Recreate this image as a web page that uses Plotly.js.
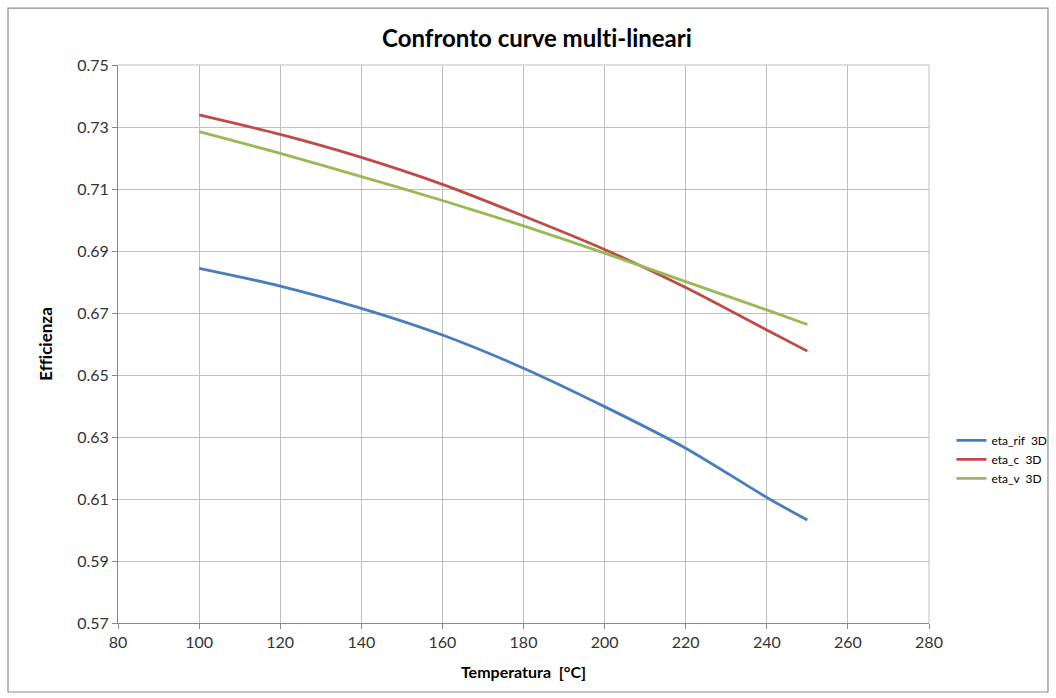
<!DOCTYPE html>
<html>
<head>
<meta charset="utf-8">
<script src="https://cdn.plot.ly/plotly-3.0.1.min.js"></script>
<style>html,body{margin:0;padding:0;background:#fff;}#chart{width:1056px;height:698px;}#chart text{font-variant-ligatures:none;font-feature-settings:"liga" 0;}</style>
</head>
<body>
<div id="chart"></div>
<script>
const temperature = [100, 120, 140, 160, 180, 200, 220, 240, 250];
const etaRif = [0.6844, 0.6787, 0.6715, 0.6629, 0.6522, 0.6398, 0.6264, 0.6105, 0.6032];
const etaC   = [0.7339, 0.7276, 0.7202, 0.7115, 0.7013, 0.6905, 0.6782, 0.6645, 0.6577];
const etaV   = [0.7285, 0.7215, 0.7140, 0.7063, 0.6981, 0.6893, 0.6801, 0.6710, 0.6663];
const seriesNames = ["eta_rif\u00a0 3D", "eta_c\u00a0 3D", "eta_v\u00a0 3D"];
const colors = ["#4a7ebb", "#be4b48", "#98b954"];
const xTicks = [80, 100, 120, 140, 160, 180, 200, 220, 240, 260, 280];
const yTicks = [0.57, 0.59, 0.61, 0.63, 0.65, 0.67, 0.69, 0.71, 0.73, 0.75];

const font = "Lato, 'Open Sans', sans-serif";
const ys = [etaRif, etaC, etaV];
const traces = ys.map((y, i) => ({
  x: temperature, y: y, type: "scatter", mode: "lines", name: seriesNames[i],
  line: {color: colors[i], width: 2.8, shape: "spline", smoothing: 0.8}
}));

const layout = {
  width: 1056, height: 698,
  margin: {l: 118, r: 127, t: 65, b: 75},
  paper_bgcolor: "#fff", plot_bgcolor: "#fff",
  font: {family: font, size: 16, color: "#333"},
  title: {text: "<b>Confronto curve multi-lineari</b>", font: {family: font, size: 24, color: "#000"},
          x: 0.5166, xref: "paper", xanchor: "center", y: 0.945, yref: "container", yanchor: "middle"},
  xaxis: {range: [80, 280], tickvals: xTicks, ticktext: xTicks.map(String),
          showgrid: true, gridcolor: "#bfbfbf", gridwidth: 1,
          showline: true, linecolor: "#888", linewidth: 1, mirror: false,
          ticks: "outside", ticklen: 5, tickcolor: "#888", zeroline: false,
          tickfont: {size: 16, color: "#333"},
          title: {text: "<b>Temperatura\u00a0 [°C]</b>", font: {size: 16, color: "#000"}, standoff: 16}},
  yaxis: {range: [0.57, 0.75], tickvals: yTicks, ticktext: yTicks.map(v => v.toFixed(2)),
          showgrid: true, gridcolor: "#bfbfbf", gridwidth: 1,
          showline: true, linecolor: "#888", linewidth: 1,
          ticks: "outside", ticklen: 5, tickcolor: "#888", zeroline: false,
          tickfont: {size: 16, color: "#333"},
          title: {text: "<b>Efficienza</b>", font: {size: 17, color: "#000"}, standoff: 20}},
  legend: {xref: "container", yref: "container", x: 0.901, xanchor: "left", y: 0.342, yanchor: "middle",
           font: {size: 12, color: "#000"}, bgcolor: "rgba(0,0,0,0)",
           tracegroupgap: 0, itemwidth: 30},
  shapes: [
    {type: "rect", xref: "paper", yref: "paper", x0: -0.1356, x1: 1.1467, y0: -0.1237, y1: 1.102,
     line: {color: "#8c8c8c", width: 1.2}, fillcolor: "rgba(0,0,0,0)", layer: "below"},
    {type: "line", xref: "paper", yref: "paper", x0: 1, x1: 1, y0: 0, y1: 1, line: {color: "#bfbfbf", width: 1}},
    {type: "line", xref: "paper", yref: "paper", x0: 0, x1: 1, y0: 1, y1: 1, line: {color: "#bfbfbf", width: 1}}
  ]
};
Plotly.newPlot("chart", traces, layout, {displayModeBar: false, staticPlot: true});
</script>
</body>
</html>
